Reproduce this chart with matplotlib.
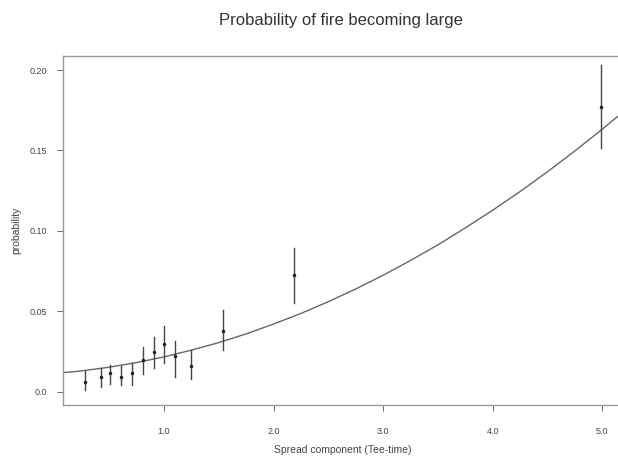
import matplotlib
matplotlib.use("Agg")
import matplotlib.pyplot as plt

# observed proportions with interval limits
spread = [0.28, 0.42, 0.51, 0.61, 0.71, 0.81, 0.91, 1.0, 1.1, 1.25, 1.54, 2.19, 4.99]
prob = [0.0064, 0.0095, 0.0116, 0.0095, 0.0116, 0.0199, 0.025, 0.0298, 0.0224,
        0.0163, 0.0379, 0.0727, 0.1772]
lower = [0.0012, 0.0031, 0.005, 0.0043, 0.0043, 0.0112, 0.0147, 0.0178, 0.0095,
         0.0079, 0.0261, 0.0551, 0.1516]
upper = [0.0132, 0.0149, 0.0168, 0.0161, 0.0182, 0.0281, 0.0343, 0.0412, 0.0317,
         0.0261, 0.0509, 0.0893, 0.2031]

# fitted curve
fit_x = [0.0, 0.25, 0.5, 0.75, 1.0, 1.25, 1.5, 1.75, 2.0, 2.25, 2.5, 2.75, 3.0,
         3.25, 3.5, 3.75, 4.0, 4.25, 4.5, 4.75, 5.0, 5.25]
fit_p = [0.0115, 0.0131, 0.0154, 0.0183, 0.0218, 0.0260, 0.0307, 0.0361, 0.0422,
         0.0488, 0.0561, 0.0640, 0.0725, 0.0817, 0.0914, 0.1019, 0.1129, 0.1245,
         0.1368, 0.1497, 0.1632, 0.1774]

xticks = [1.0, 2.0, 3.0, 4.0, 5.0]
yticks = [0.0, 0.05, 0.10, 0.15, 0.20]
ytick_labels = ["0.0", "0.05", "0.10", "0.15", "0.20"]

plt.rcParams['font.family'] = ['Liberation Sans', 'DejaVu Sans']

fig = plt.figure(figsize=(6.18, 4.59), dpi=100)
ax = fig.add_axes([0.1024, 0.1176, 0.904, 0.7604])

ax.plot(fit_x, fit_p, color='#666666', lw=1.0)
for x, lo, hi in zip(spread, lower, upper):
    ax.plot([x, x], [lo, hi], color='#444444', lw=1.0)
ax.plot(spread, prob, linestyle='none', marker='o', ms=1.5, color='#222222')

ax.set_xlim(0.08, 5.18)
ax.set_ylim(-0.0081, 0.2087)
ax.set_xticks(xticks)
ax.set_xticklabels([f"{t:.1f}" for t in xticks])
ax.set_yticks(yticks)
ax.set_yticklabels(ytick_labels)

for s in ax.spines.values():
    s.set_color('#999999')
    s.set_linewidth(1.0)
ax.tick_params(direction='out', length=4.5, width=0.7, color='#666666',
               labelsize=6.5, labelcolor='#444444')
ax.tick_params(axis='x', pad=11)
ax.tick_params(axis='y', pad=7)

ax.set_xlabel("Spread component (Tee-time)", fontsize=7.5, color='#444444', labelpad=7)
ax.set_ylabel("probability", fontsize=7.5, color='#444444', labelpad=6)
fig.text(0.552, 0.955, "Probability of fire becoming large", ha='center', va='center',
         fontsize=12, color='#333333')

fig.savefig("out.png", dpi=100)
